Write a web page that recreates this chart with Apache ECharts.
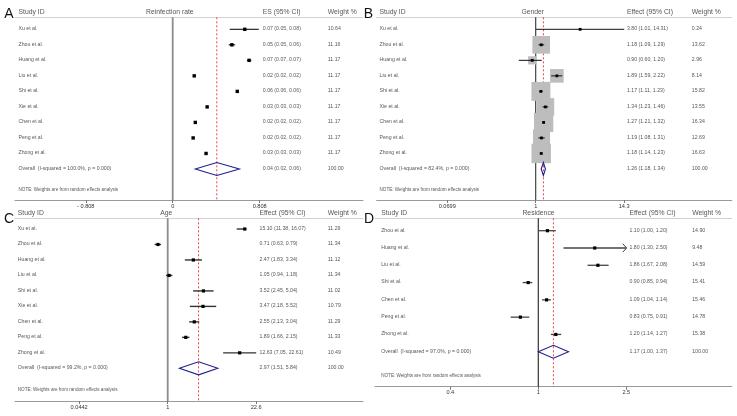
<!DOCTYPE html>
<html><head><meta charset="utf-8">
<script src="https://cdn.jsdelivr.net/npm/echarts@6/dist/echarts.min.js"></script>
<style>html,body{margin:0;padding:0;background:#fff}#c{width:737px;height:416px}</style>
</head><body><div id="c"></div>
<script>
// ================= DATA =================
// Panel A – Reinfection rate (linear scale)
const studiesA = ['Xu et al.','Zhou et al.','Huang et al.','Liu et al.','Shi et al.','Xie et al.','Chen et al.','Peng et al.','Zhong et al.'];
const esA = [0.067,0.055,0.071,0.020,0.060,0.032,0.021,0.019,0.031];
const loA = [0.053,0.052,0.069,0.019,0.059,0.031,0.020,0.018,0.030];
const hiA = [0.080,0.058,0.073,0.021,0.061,0.033,0.022,0.020,0.032];
const weightA = [10.64,11.16,11.17,11.17,11.17,11.17,11.17,11.17,11.17];
const ciTextA = ['0.07 (0.05, 0.08)','0.05 (0.05, 0.06)','0.07 (0.07, 0.07)','0.02 (0.02, 0.02)','0.06 (0.06, 0.06)','0.03 (0.03, 0.03)','0.02 (0.02, 0.02)','0.02 (0.02, 0.02)','0.03 (0.03, 0.03)'];
const overallA = [0.041, 0.021, 0.062];
const overallCiA = '0.04 (0.02, 0.06)';
const i2A = '100.0';
const ticksA = [-0.0808, 0, 0.0808];
const tickLabelsA = ['- 0.808','0','0.808'];

// Panel B – Gender
const studiesB = ['Xu et al.','Zhou et al.','Huang et al.','Liu et al.','Shi et al.','Xie et al.','Chen et al.','Peng et al.','Zhong et al.'];
const esB = [3.80,1.18,0.90,1.89,1.17,1.34,1.27,1.19,1.18];
const loB = [1.01,1.09,0.60,1.59,1.11,1.23,1.21,1.08,1.14];
const hiB = [14.31,1.29,1.20,2.22,1.23,1.46,1.32,1.31,1.23];
const weightB = [0.24,13.62,2.96,8.14,15.82,13.55,16.34,12.69,16.63];
const overallB = [1.26,1.18,1.34];
const i2B = '82.4';
const ticksB = [0.0699, 1, 14.3];
const tickLabelsB = ['0.0699','1','14.3'];

// Panel C – Age
const studiesC = ['Xu et al.','Zhou et al.','Huang et al.','Liu et al.','Shi et al.','Xie et al.','Chen et al.','Peng et al.','Zhong et al.'];
const esC = [15.10,0.71,2.47,1.05,3.52,3.47,2.55,1.89,12.63];
const loC = [11.38,0.63,1.83,0.94,2.45,2.18,2.13,1.66,7.05];
const hiC = [16.07,0.79,3.34,1.18,5.04,5.52,3.04,2.15,22.61];
const weightC = [11.29,11.34,11.12,11.34,11.02,10.79,11.29,11.33,10.49];
const overallC = [2.97,1.51,5.84];
const i2C = '99.2';
const ticksC = [0.0442, 1, 22.6];
const tickLabelsC = ['0.0442','1','22.6'];

// Panel D – Residence
const studiesD = ['Zhou et al.','Huang et al.','Liu et al.','Shi et al.','Chen et al.','Peng et al.','Zhong et al.'];
const esD = [1.10,1.80,1.86,0.90,1.09,0.83,1.20];
const loD = [1.00,1.30,1.67,0.85,1.04,0.75,1.14];
const hiD = [1.20,2.50,2.08,0.94,1.14,0.91,1.27];
const weightD = [14.90,9.48,14.59,15.41,15.46,14.78,15.38];
const overallD = [1.17,1.00,1.37];
const i2D = '97.0';
const ticksD = [0.4, 1, 2.5];
const tickLabelsD = ['0.4','1','2.5'];

const noteText = 'NOTE: Weights are from random effects analysis';

// ================= PANELS (data binding) =================
const fmt = v => v.toFixed(2);
const ciStr = (e,l,h) => fmt(e) + ' (' + fmt(l) + ', ' + fmt(h) + ')';
const panels = [
  {letter:'A', title:'Reinfection rate', esHeader:'ES (95% CI)', studies:studiesA, es:esA, lo:loA, hi:hiA, w:weightA,
   ciText:ciTextA, overall:overallA, overallCi:overallCiA, i2:i2A, ticks:ticksA, tickLabels:tickLabelsA, nullVal:0},
  {letter:'B', title:'Gender', esHeader:'Effect (95% CI)', studies:studiesB, es:esB, lo:loB, hi:hiB, w:weightB,
   ciText:esB.map((e,i)=>ciStr(e,loB[i],hiB[i])), overall:overallB, overallCi:ciStr(...overallB), i2:i2B, ticks:ticksB, tickLabels:tickLabelsB, nullVal:1},
  {letter:'C', title:'Age', esHeader:'Effect (95% CI)', studies:studiesC, es:esC, lo:loC, hi:hiC, w:weightC,
   ciText:esC.map((e,i)=>ciStr(e,loC[i],hiC[i])), overall:overallC, overallCi:ciStr(...overallC), i2:i2C, ticks:ticksC, tickLabels:tickLabelsC, nullVal:1},
  {letter:'D', title:'Residence', esHeader:'Effect (95% CI)', studies:studiesD, es:esD, lo:loD, hi:hiD, w:weightD,
   ciText:esD.map((e,i)=>ciStr(e,loD[i],hiD[i])), overall:overallD, overallCi:ciStr(...overallD), i2:i2D, ticks:ticksD, tickLabels:tickLabelsD, nullVal:1}
];

// ================= LAYOUT / STYLE =================
const layouts = [
  {left:15, right:363, top:17.3, bottom:200, firstRow:29.3, rowStep:15.52, headerY:12.3, noteY:190,
   log:false, xMin:-0.14656, xMax:0.17686, cols:{study:19, title:170.3, es:263.3, weight:328.3}, letter:[9,14],
   boxes:false, marker:3.4, ciColor:'#111', ciWidth:1.1, nullColor:'#8c8c8c', nullWidth:1.8},
  {left:376.7, right:731.7, top:17.3, bottom:200, firstRow:29.3, rowStep:15.52, headerY:12.3, noteY:190.5,
   log:true, xMin:-2.0757, xMax:2.5587, cols:{study:380, title:533.3, es:627.5, weight:692.3}, letter:[368.5,14],
   boxes:true, boxScale:4.77, marker:2.8, ciColor:'#111', ciWidth:1, nullColor:'#333', nullWidth:1.1},
  {left:15, right:363, top:218.3, bottom:401, firstRow:229, rowStep:15.48, headerY:213.3, noteY:390,
   log:true, xMin:-2.3366, xMax:2.9885, cols:{study:18.3, title:166.7, es:260, weight:328.3}, letter:[9,219.5],
   boxes:false, marker:3.2, ciColor:'#333', ciWidth:1.4, nullColor:'#8c8c8c', nullWidth:1.8},
  {left:375, right:731.7, top:218.3, bottom:386.7, firstRow:230.7, rowStep:17.29, headerY:213.3, noteY:376.7,
   log:true, xMin:-0.7386, xMax:0.8747, cols:{study:381.7, title:539, es:630, weight:692.7}, letter:[369,219.5],
   boxes:false, marker:3.2, ciColor:'#444', ciWidth:1.3, nullColor:'#333', nullWidth:1.2, arrowMax:2.5}
];

const FONT = '"Liberation Sans", Arial, Helvetica, sans-serif';
const option = {animation:false, backgroundColor:'#fff', grid:[], xAxis:[], yAxis:[], series:[], graphic:[]};

panels.forEach((p, g) => {
  const L = layouts[g];
  const tf = L.log ? (v => Math.log10(v)) : (v => v);
  const n = p.studies.length;
  const yMin = (L.top - L.firstRow) / L.rowStep;
  const yMax = (L.bottom - L.firstRow) / L.rowStep;
  const hdrRow = (L.headerY - L.firstRow) / L.rowStep;
  const noteRow = (L.noteY - L.firstRow) / L.rowStep;
  const tickPos = p.ticks.map(tf);
  const xMain = 2*g, xText = 2*g + 1;

  option.grid.push({left:L.left, top:L.top, width:L.right-L.left, height:L.bottom-L.top});
  option.xAxis.push({
    gridIndex:g, type:'value', min:L.xMin, max:L.xMax, position:'bottom',
    axisLine:{show:true, onZero:false, lineStyle:{color:'#9a9a9a', width:1.2}},
    axisTick:{show:true, customValues:tickPos, length:3, lineStyle:{color:'#777', width:1}},
    axisLabel:{show:true, customValues:tickPos, margin:3, fontSize:5.6, color:'#333', fontFamily:FONT,
      formatter: v => { let k = 0, d = Infinity; tickPos.forEach((t,i)=>{ if (Math.abs(t-v) < d) { d = Math.abs(t-v); k = i; } }); return p.tickLabels[k]; }},
    splitLine:{show:false}
  });
  option.xAxis.push({
    gridIndex:g, type:'value', min:0, max:L.right-L.left, position:'top',
    axisLine:{show:true, onZero:false, lineStyle:{color:'#d2d2d2', width:1}},
    axisTick:{show:false}, axisLabel:{show:false}, splitLine:{show:false}
  });
  option.yAxis.push({gridIndex:g, type:'value', inverse:true, min:yMin, max:yMax, show:false});

  // reference lines: null line + overall (red dashed)
  option.series.push({
    type:'custom', xAxisIndex:xMain, yAxisIndex:g, z:1, silent:true, clip:false,
    encode:{x:0, y:1},
    data:[[tf(p.nullVal), 0, tf(p.overall[0])]],
    renderItem:(params, api) => {
      const a = api.coord([api.value(0), yMin]), b = api.coord([api.value(0), yMax]);
      const c = api.coord([api.value(2), yMin]), d = api.coord([api.value(2), yMax]);
      return {type:'group', children:[
        {type:'line', shape:{x1:a[0], y1:a[1], x2:b[0], y2:b[1]}, style:{stroke:L.nullColor, lineWidth:L.nullWidth}},
        {type:'line', shape:{x1:c[0], y1:c[1], x2:d[0], y2:d[1]}, style:{stroke:'#e2323c', lineWidth:0.9, lineDash:[2,2]}}
      ]};
    }
  });

  // weight boxes
  if (L.boxes) {
    option.series.push({
      type:'custom', xAxisIndex:xMain, yAxisIndex:g, z:2, silent:true, clip:false,
      encode:{x:0, y:1},
      data:p.es.map((e,i)=>[tf(e), i, p.w[i]]),
      renderItem:(params, api) => {
        const c = api.coord([api.value(0), api.value(1)]);
        const s = L.boxScale * Math.sqrt(api.value(2));
        return {type:'rect', shape:{x:c[0]-s/2, y:c[1]-s/2, width:s, height:s}, style:{fill:'#bdbdbd'}};
      }
    });
  }

  // study CI lines and point markers
  option.series.push({
    type:'custom', xAxisIndex:xMain, yAxisIndex:g, z:3, silent:true, clip:false,
    encode:{x:0, y:1},
    data:p.es.map((e,i)=>[tf(e), i, tf(p.lo[i]), tf(p.hi[i]), (L.arrowMax && p.hi[i] >= L.arrowMax) ? 1 : 0]),
    renderItem:(params, api) => {
      const row = api.value(1);
      const c = api.coord([api.value(0), row]);
      const a = api.coord([api.value(2), row]);
      const b = api.coord([api.value(3), row]);
      const ch = [{type:'line', shape:{x1:a[0], y1:a[1], x2:b[0], y2:b[1]}, style:{stroke:L.ciColor, lineWidth:L.ciWidth}}];
      if (api.value(4)) {
        ch.push({type:'polyline', shape:{points:[[b[0]-3.5, b[1]-4.2],[b[0]+0.3, b[1]],[b[0]-3.5, b[1]+4.2]]},
                 style:{stroke:L.ciColor, lineWidth:1, fill:'none'}});
      }
      const s = L.marker;
      ch.push({type:'rect', shape:{x:c[0]-s/2, y:c[1]-s/2, width:s, height:s}, style:{fill:'#000'}});
      return {type:'group', children:ch};
    }
  });

  // overall diamond
  option.series.push({
    type:'custom', xAxisIndex:xMain, yAxisIndex:g, z:3, silent:true, clip:false,
    encode:{x:0, y:1},
    data:[[tf(p.overall[0]), n, tf(p.overall[1]), tf(p.overall[2])]],
    renderItem:(params, api) => {
      const row = api.value(1);
      const c = api.coord([api.value(0), row]);
      const a = api.coord([api.value(2), row]);
      const b = api.coord([api.value(3), row]);
      const h = 6.5;
      return {type:'polygon', shape:{points:[[a[0],a[1]],[c[0],c[1]-h],[b[0],b[1]],[c[0],c[1]+h]]},
              style:{stroke:'#1f1f8e', lineWidth:1.1, fill:'none'}};
    }
  });

  // text table
  const txt = [];
  const add = (col, row, text, size, align) => txt.push({
    value:[col - L.left, row], name:text,
    label:{fontSize:size, align:align || 'left'}
  });
  add(L.cols.study, hdrRow, 'Study ID', 6.8);
  add(L.cols.title, hdrRow, p.title, 6.8, 'center');
  add(L.cols.es, hdrRow, p.esHeader, 6.8);
  add(L.cols.weight, hdrRow, 'Weight %', 6.8);
  p.studies.forEach((s, i) => {
    add(L.cols.study, i, s, 5.2);
    add(L.cols.es, i, p.ciText[i], 5.2);
    add(L.cols.weight, i, fmt(p.w[i]), 5.2);
  });
  add(L.cols.study, n, 'Overall  (I-squared = ' + p.i2 + '%, p = 0.000)', 5.2);
  add(L.cols.es, n, p.overallCi, 5.2);
  add(L.cols.weight, n, '100.00', 5.2);
  add(L.cols.study, noteRow, noteText, 4.6);
  option.series.push({
    type:'scatter', xAxisIndex:xText, yAxisIndex:g, z:5, silent:true, clip:false,
    symbolSize:1, itemStyle:{color:'rgba(0,0,0,0)'},
    label:{show:true, position:[0,0], verticalAlign:'middle', color:'#2a2a2a', fontFamily:FONT, formatter:'{b}'},
    emphasis:{disabled:true},
    data:txt
  });

  option.graphic.push({type:'text', x:L.letter[0], y:L.letter[1], silent:true,
    style:{text:p.letter, fontSize:14, fontFamily:FONT, fill:'#111', align:'center', verticalAlign:'middle'}});
});

const chart = echarts.init(document.getElementById('c'), null, {renderer:'canvas', width:737, height:416});
chart.setOption(option);
</script>
</body></html>
